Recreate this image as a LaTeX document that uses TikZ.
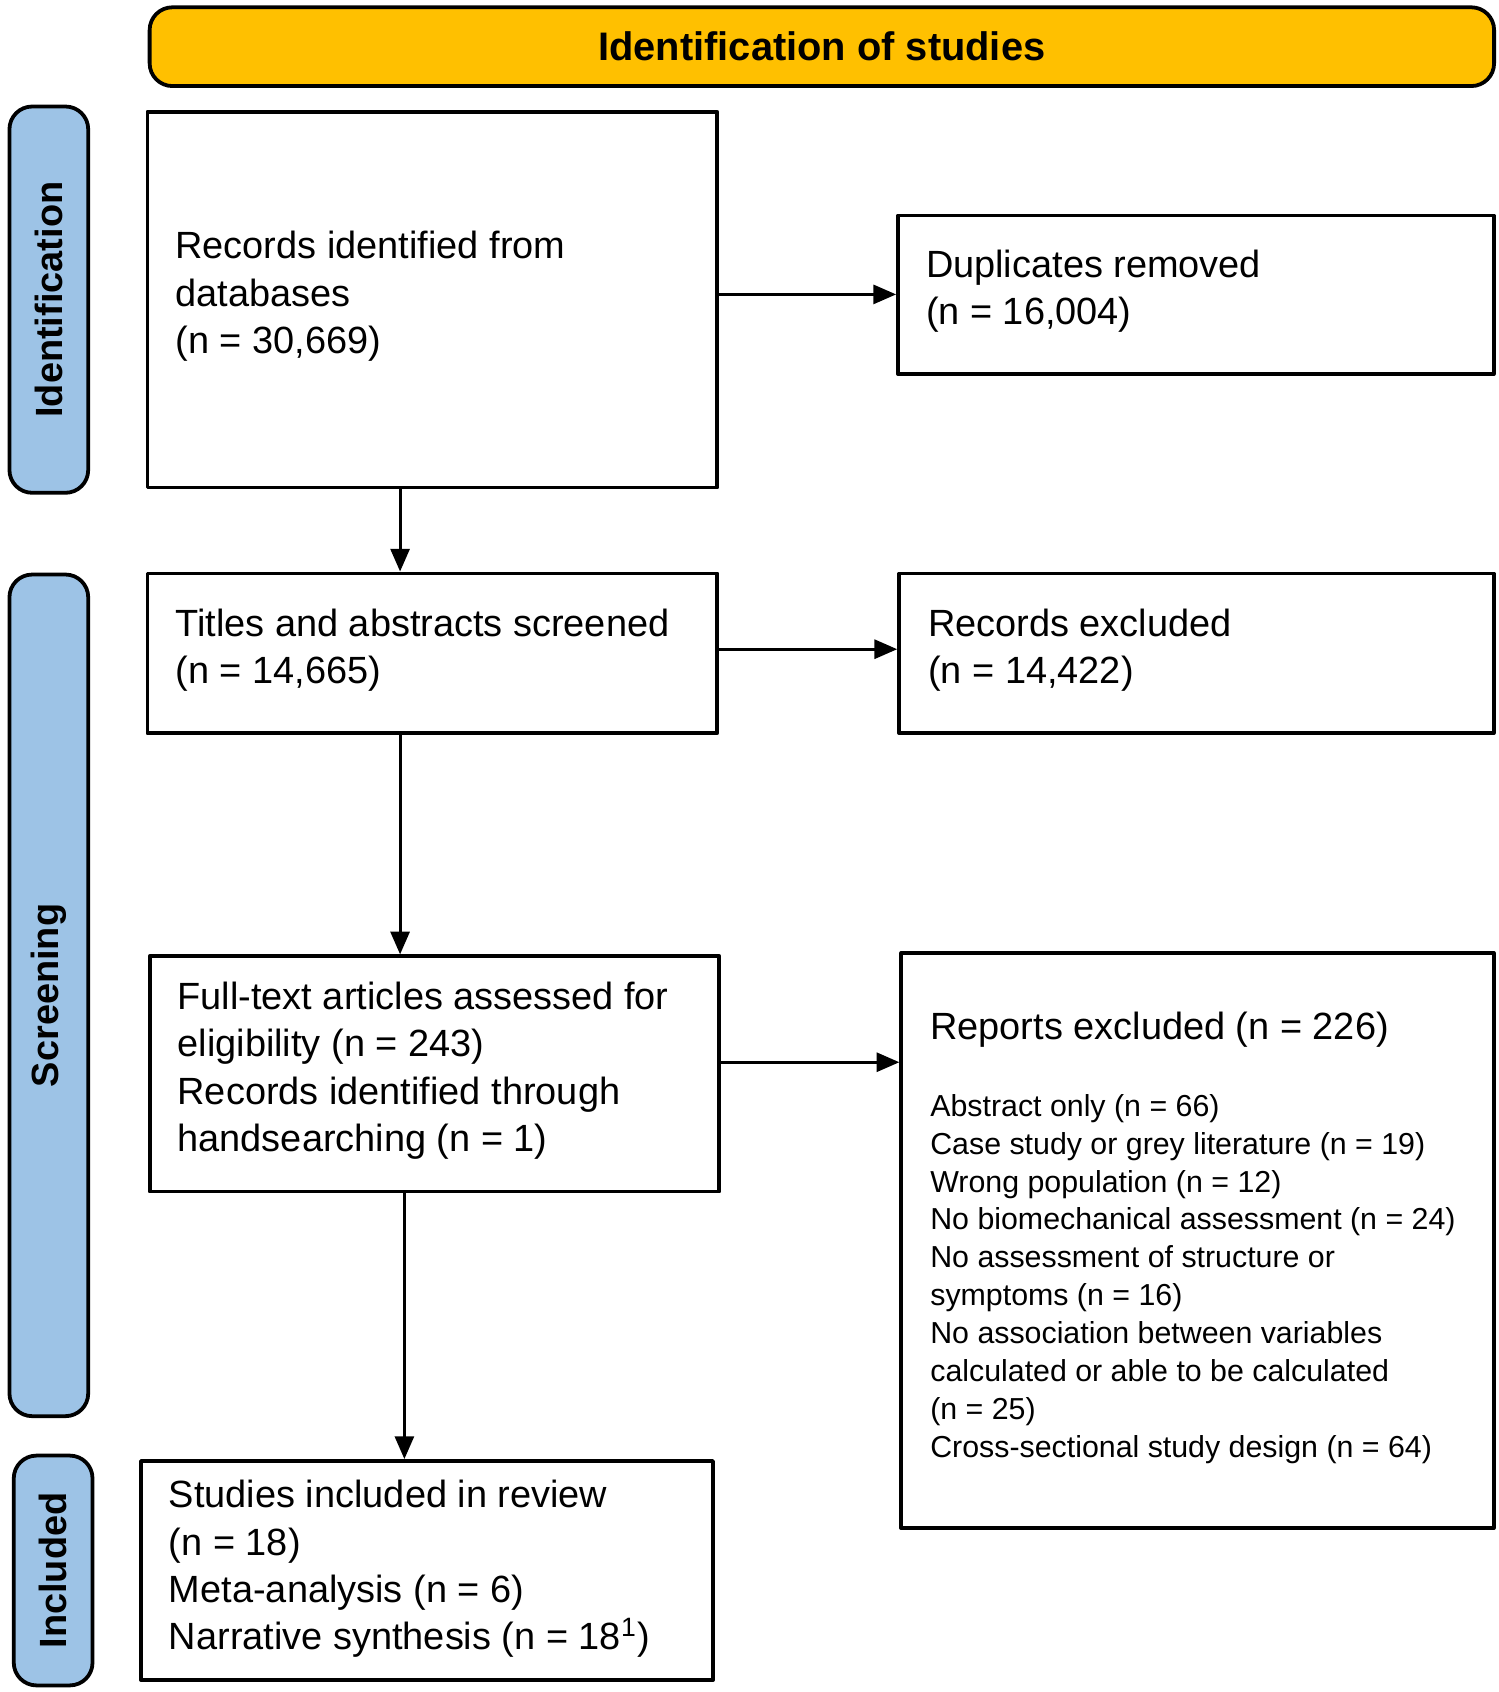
\documentclass[tikz,border=0pt]{standalone}
\usepackage{fontspec}
\setmainfont{Liberation Sans}
\usetikzlibrary{arrows.meta}

\begin{document}
\begin{tikzpicture}[line cap=round,line join=round,>={Triangle[length=6pt,width=5pt]},x=0.01cm,y=-0.01cm,
  box/.style={draw,line width=1pt,anchor=north west,inner sep=0pt},
  tab/.style={draw,line width=1pt,fill=tabblue,rounded corners=6pt,anchor=north west,inner sep=0pt},
  txt/.style={anchor=west,align=left,inner sep=0pt,font=\fontsize{10}{12.5}\selectfont},
  small/.style={anchor=west,align=left,inner sep=0pt,font=\fontsize{8}{10}\selectfont}]
\definecolor{tabblue}{HTML}{9DC3E6}
\definecolor{gold}{HTML}{FFC000}
\useasboundingbox (0,0) rectangle (1390,1569);

% header and side tabs
\node[draw,line width=1pt,fill=gold,rounded corners=6pt,anchor=north west,minimum width=12.46cm,minimum height=0.73cm,
  font=\bfseries\fontsize{10.5}{12}\selectfont] (head) at (137,5) {Identification of studies};
\node[tab,minimum width=0.73cm,minimum height=3.58cm] (tabid) at (7,97) {};
\node[rotate=90,font=\bfseries\fontsize{10}{12}\selectfont] at (tabid.center) {Identification};
\node[tab,minimum width=0.73cm,minimum height=7.80cm] (tabsc) at (7,531) {};
\node[rotate=90,font=\bfseries\fontsize{10}{12}\selectfont] at (tabsc.center) {Screening};
\node[tab,minimum width=0.73cm,minimum height=2.13cm] (tabin) at (11,1348) {};
\node[rotate=90,font=\bfseries\fontsize{10}{12}\selectfont] at (tabin.center) {Included};

% boxes
\node[box,minimum width=5.28cm,minimum height=3.48cm] (recdb) at (135,102) {};
\node[box,minimum width=5.52cm,minimum height=1.47cm] (dupl) at (831,198) {};
\node[box,minimum width=5.28cm,minimum height=1.48cm] (titles) at (135,530) {};
\node[box,minimum width=5.51cm,minimum height=1.48cm] (recex) at (832,530) {};
\node[box,minimum width=5.28cm,minimum height=2.18cm] (fulltext) at (137,885) {};
\node[box,minimum width=5.49cm,minimum height=5.33cm] (repex) at (834,882) {};
\node[box,minimum width=5.30cm,minimum height=2.03cm] (incl) at (129,1353) {};

% texts
\node[txt] at (162,275) {Records identified from\\databases\\(n = 30,669)};
\node[txt] at (858,270) {Duplicates removed\\(n = 16,004)};
\node[txt] at (162,603) {Titles and abstracts screened\\(n = 14,665)};
\node[txt] at (860,603) {Records excluded\\(n = 14,422)};
\node[txt] at (164,993) {Full-text articles assessed for\\eligibility (n = 243)\\Records identified through\\handsearching (n = 1)};
\node[txt] at (862,955) {Reports excluded (n = 226)};
\node[small] at (862,1186) {Abstract only (n = 66)\\Case study or grey literature (n = 19)\\Wrong population (n = 12)\\No biomechanical assessment (n = 24)\\No assessment of structure or\\symptoms (n = 16)\\No association between variables\\calculated or able to be calculated\\(n = 25)\\Cross-sectional study design (n = 64)};
\node[txt] at (156,1455) {Studies included in review\\(n = 18)\\Meta-analysis (n = 6)\\Narrative synthesis (n = 18\textsuperscript{1})};

% arrows
\draw[->,line width=0.8pt] (recdb.south -| 371,0) -- (titles.north -| 371,0);
\draw[->,line width=0.8pt] (recdb.east |- 0,273) -- (dupl.west |- 0,273);
\draw[->,line width=0.8pt] (titles.east |- 0,602) -- (recex.west |- 0,602);
\draw[->,line width=0.8pt] (titles.south -| 371,0) -- (fulltext.north -| 371,0);
\draw[->,line width=0.8pt] (fulltext.east |- 0,985) -- (repex.west |- 0,985);
\draw[->,line width=0.8pt] (fulltext.south -| 375,0) -- (incl.north -| 375,0);
\end{tikzpicture}
\end{document}
